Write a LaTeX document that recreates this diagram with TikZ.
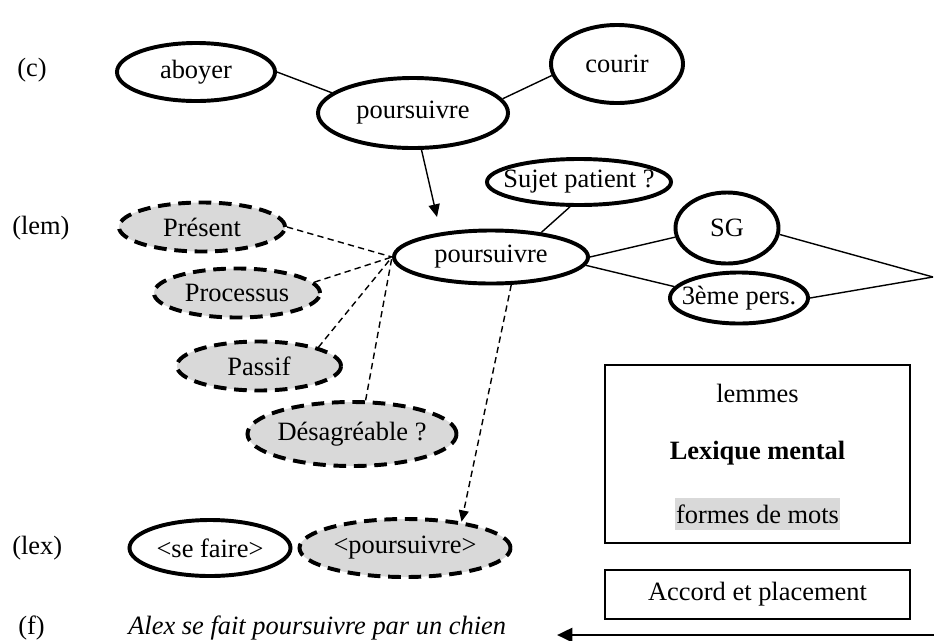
\documentclass[tikz,border=0pt]{standalone}
\usepackage{fontspec}
\setmainfont{Liberation Serif}
\usetikzlibrary{shapes.geometric,arrows.meta}
\definecolor{grisclair}{RGB}{217,217,217}

\begin{document}
\begin{tikzpicture}[x=0.025cm,y=-0.025cm,
    font=\fontsize{18.8}{22}\selectfont,
    bulle/.style={ellipse,draw,line width=2.8pt,inner xsep=-2cm,inner ysep=0pt},
    bulle_grise/.style={bulle,fill=grisclair,dash pattern=on 9pt off 5.5pt},
    etiq/.style={anchor=west,inner sep=0pt},
    lien/.style={line width=1pt},
    lien_pointille/.style={line width=1pt,dash pattern=on 4.5pt off 3pt},
    cadre/.style={draw,line width=0.9pt,inner sep=0pt}]

      \useasboundingbox (0,0) rectangle (934,640);

      \path (17,70) node [etiq](lab_c){(c)};
      \path (12,228) node [etiq](lab_lem){(lem)};
      \path (12,548) node [etiq](lab_lex){(lex)};
      \path (18,628) node [etiq](lab_f){(f)};

      \path (196,72) node [bulle,minimum width=3.95cm,minimum height=1.45cm](aboyer){aboyer};
      \path (413,113) node [bulle,minimum width=4.75cm,minimum height=1.75cm](pours_c){poursuivre};
      \path (617,64) node [bulle,minimum width=3.3cm,minimum height=1.95cm](courir){courir};

      \path (579,182) node [bulle,minimum width=4.6cm,minimum height=1.15cm](sujet){Sujet patient ?};
      \path (727,228) node [bulle,minimum width=2.575cm,minimum height=1.775cm](sg){SG};
      \path (739,298) node [bulle,minimum width=3.45cm,minimum height=1.275cm](pers){3ème pers.};
      \path (491,257) node [bulle,minimum width=4.85cm,minimum height=1.325cm](pours_l){poursuivre};
      \path (202,227) node [bulle_grise,minimum width=4.15cm,minimum height=1.225cm](present){Présent};
      \path (237,293) node [bulle_grise,minimum width=4.15cm,minimum height=1.225cm](processus){Processus};
      \path (259,366) node [bulle_grise,minimum width=4.1cm,minimum height=1.225cm](passif){Passif};
      \path (352,434) node [bulle_grise,minimum width=5.225cm,minimum height=1.6cm](desagreable){Désagréable ?};

      \path (210,548) node [bulle,minimum width=4.025cm,minimum height=1.4cm](se_faire){<se faire>};
      \path (405,548) node [bulle_grise,minimum width=5.275cm,minimum height=1.45cm](pours_x){<poursuivre>};

      \path (757.5,454) node [cadre,minimum width=7.625cm,minimum height=4.45cm](lexique){};
      \path (757.5,393) node (lemmes){lemmes};
      \path (757.5,453) node (lex_mental){\textbf{Lexique mental}};
      \path (757.5,514) node [fill=grisclair,inner sep=0pt,minimum width=4.125cm,minimum height=0.8cm](formes){formes de mots};
      \path (757.5,594.5) node [cadre,minimum width=7.625cm,minimum height=1.225cm](accord){Accord et placement};

      \path (128,628) node [etiq](phrase){\textit{Alex se fait poursuivre par un chien}};

      \coordinate (lem_in) at (437,217);
      \coordinate (accord_pt) at (933,277);
      \coordinate (f_debut) at (934,635);
      \coordinate (f_fin) at (557,635);

      \draw[lien] (aboyer.east) -- (pours_c.166);
      \draw[lien] (pours_c.9) -- (courir.190);
      \draw[lien,-{Triangle[length=9pt,width=8pt]}] (pours_c) -- (lem_in);
      \draw[lien] (sujet.250) -- (pours_l.26);
      \draw[lien] (pours_l.east) -- (sg.190);
      \draw[lien] (pours_l.-5) -- (pers.170);
      \draw[lien] (sg.-7) -- (accord_pt);
      \draw[lien] (pers.east) -- (accord_pt);
      \draw[lien_pointille] (present.east) -- (pours_l.west);
      \draw[lien_pointille] (processus.8) -- (pours_l.west);
      \draw[lien_pointille] (passif.north east) -- (pours_l.west);
      \draw[lien_pointille] (desagreable.68) -- (pours_l.west);
      \draw[lien_pointille,-{Triangle[length=8pt,width=7pt]}] (pours_l.-54) -- (pours_x.25);
      \draw[line width=2pt,-{Triangle[length=11pt,width=10pt]}] (f_debut) -- (f_fin);

    \end{tikzpicture}
\end{document}
